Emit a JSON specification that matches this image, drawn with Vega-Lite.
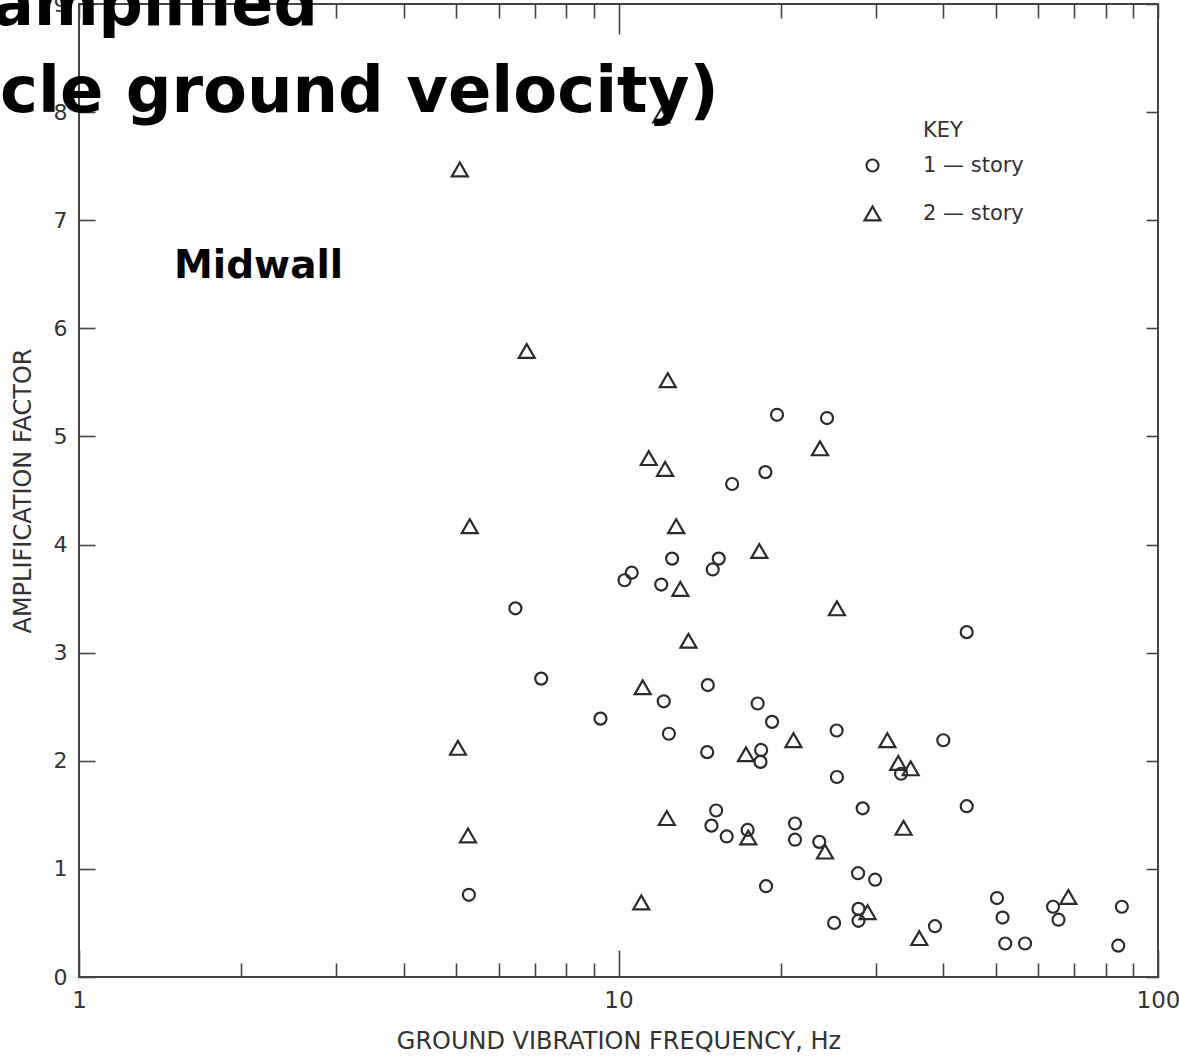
{
  "$schema": "https://vega.github.io/schema/vega-lite/v6.json",
  "width": 1079,
  "height": 973,
  "autosize": {"type": "none"},
  "padding": {"left": 79, "top": 4, "right": 21, "bottom": 83},
  "background": "white",
  "config": {
    "view": {"stroke": "#444", "strokeWidth": 2},
    "font": "DejaVu Sans",
    "axis": {
      "domain": false, "grid": false,
      "labelFont": "DejaVu Sans", "titleFont": "DejaVu Sans",
      "labelColor": "#333", "titleColor": "#333",
      "tickColor": "#444", "tickWidth": 1.6,
      "titleFontWeight": "normal",
      "labelFlush": false, "labelOverlap": false, "labelBound": false
    }
  },
  "data": {
    "values": [
      {"f": 19.67, "a": 5.20, "s": "1 — story"},
      {"f": 24.35, "a": 5.17, "s": "1 — story"},
      {"f": 18.72, "a": 4.67, "s": "1 — story"},
      {"f": 16.24, "a": 4.56, "s": "1 — story"},
      {"f": 12.57, "a": 3.87, "s": "1 — story"},
      {"f": 15.34, "a": 3.87, "s": "1 — story"},
      {"f": 14.95, "a": 3.77, "s": "1 — story"},
      {"f": 10.58, "a": 3.74, "s": "1 — story"},
      {"f": 10.26, "a": 3.67, "s": "1 — story"},
      {"f": 12.0, "a": 3.63, "s": "1 — story"},
      {"f": 6.44, "a": 3.41, "s": "1 — story"},
      {"f": 44.2, "a": 3.19, "s": "1 — story"},
      {"f": 7.19, "a": 2.76, "s": "1 — story"},
      {"f": 14.64, "a": 2.70, "s": "1 — story"},
      {"f": 12.13, "a": 2.55, "s": "1 — story"},
      {"f": 18.11, "a": 2.53, "s": "1 — story"},
      {"f": 9.26, "a": 2.39, "s": "1 — story"},
      {"f": 19.26, "a": 2.36, "s": "1 — story"},
      {"f": 12.4, "a": 2.25, "s": "1 — story"},
      {"f": 25.37, "a": 2.28, "s": "1 — story"},
      {"f": 40.0, "a": 2.19, "s": "1 — story"},
      {"f": 14.6, "a": 2.08, "s": "1 — story"},
      {"f": 18.38, "a": 2.10, "s": "1 — story"},
      {"f": 18.33, "a": 1.99, "s": "1 — story"},
      {"f": 33.4, "a": 1.88, "s": "1 — story"},
      {"f": 25.4, "a": 1.85, "s": "1 — story"},
      {"f": 28.35, "a": 1.56, "s": "1 — story"},
      {"f": 44.2, "a": 1.58, "s": "1 — story"},
      {"f": 15.17, "a": 1.54, "s": "1 — story"},
      {"f": 14.87, "a": 1.40, "s": "1 — story"},
      {"f": 15.87, "a": 1.30, "s": "1 — story"},
      {"f": 17.35, "a": 1.36, "s": "1 — story"},
      {"f": 21.24, "a": 1.42, "s": "1 — story"},
      {"f": 21.24, "a": 1.27, "s": "1 — story"},
      {"f": 23.56, "a": 1.25, "s": "1 — story"},
      {"f": 27.8, "a": 0.96, "s": "1 — story"},
      {"f": 29.9, "a": 0.90, "s": "1 — story"},
      {"f": 18.77, "a": 0.84, "s": "1 — story"},
      {"f": 5.28, "a": 0.76, "s": "1 — story"},
      {"f": 27.85, "a": 0.63, "s": "1 — story"},
      {"f": 27.85, "a": 0.52, "s": "1 — story"},
      {"f": 25.1, "a": 0.50, "s": "1 — story"},
      {"f": 38.6, "a": 0.47, "s": "1 — story"},
      {"f": 50.3, "a": 0.73, "s": "1 — story"},
      {"f": 51.5, "a": 0.55, "s": "1 — story"},
      {"f": 52.1, "a": 0.31, "s": "1 — story"},
      {"f": 56.7, "a": 0.31, "s": "1 — story"},
      {"f": 63.9, "a": 0.65, "s": "1 — story"},
      {"f": 65.4, "a": 0.53, "s": "1 — story"},
      {"f": 85.7, "a": 0.65, "s": "1 — story"},
      {"f": 84.4, "a": 0.29, "s": "1 — story"},
      {"f": 5.08, "a": 7.47, "s": "2 — story"},
      {"f": 12.0, "a": 7.97, "s": "2 — story"},
      {"f": 6.76, "a": 5.79, "s": "2 — story"},
      {"f": 12.34, "a": 5.52, "s": "2 — story"},
      {"f": 23.63, "a": 4.89, "s": "2 — story"},
      {"f": 11.38, "a": 4.80, "s": "2 — story"},
      {"f": 12.2, "a": 4.70, "s": "2 — story"},
      {"f": 5.30, "a": 4.17, "s": "2 — story"},
      {"f": 12.79, "a": 4.17, "s": "2 — story"},
      {"f": 18.24, "a": 3.94, "s": "2 — story"},
      {"f": 13.02, "a": 3.59, "s": "2 — story"},
      {"f": 25.4, "a": 3.41, "s": "2 — story"},
      {"f": 13.48, "a": 3.11, "s": "2 — story"},
      {"f": 11.09, "a": 2.68, "s": "2 — story"},
      {"f": 21.1, "a": 2.19, "s": "2 — story"},
      {"f": 5.04, "a": 2.12, "s": "2 — story"},
      {"f": 17.23, "a": 2.06, "s": "2 — story"},
      {"f": 31.5, "a": 2.19, "s": "2 — story"},
      {"f": 33.0, "a": 1.98, "s": "2 — story"},
      {"f": 34.8, "a": 1.93, "s": "2 — story"},
      {"f": 12.29, "a": 1.47, "s": "2 — story"},
      {"f": 17.4, "a": 1.29, "s": "2 — story"},
      {"f": 5.26, "a": 1.31, "s": "2 — story"},
      {"f": 33.76, "a": 1.38, "s": "2 — story"},
      {"f": 24.14, "a": 1.16, "s": "2 — story"},
      {"f": 11.02, "a": 0.69, "s": "2 — story"},
      {"f": 28.95, "a": 0.60, "s": "2 — story"},
      {"f": 36.1, "a": 0.36, "s": "2 — story"},
      {"f": 68.2, "a": 0.74, "s": "2 — story"}
    ]
  },
  "layer": [
    {
      "mark": {"type": "point", "filled": false, "stroke": "#2b2b2b", "strokeWidth": 2.2, "opacity": 1},
      "encoding": {
        "x": {
          "field": "f", "type": "quantitative",
          "scale": {"type": "log", "domain": [1, 100], "nice": false},
          "axis": {
            "orient": "bottom",
            "values": [1, 2, 3, 4, 5, 6, 7, 8, 9, 10, 20, 30, 40, 50, 60, 70, 80, 90, 100],
            "tickSize": {"condition": {"test": "datum.value == 1 || datum.value == 10 || datum.value == 100", "value": -27}, "value": -14},
            "labelExpr": "datum.value == 1 || datum.value == 10 || datum.value == 100 ? '' + datum.value : ''",
            "labelPadding": 39,
            "labelFontSize": 23,
            "title": "GROUND VIBRATION FREQUENCY, Hz",
            "titleFontSize": 24,
            "titlePadding": 4
          }
        },
        "y": {
          "field": "a", "type": "quantitative",
          "scale": {"domain": [0, 9], "nice": false},
          "axis": {
            "orient": "left",
            "values": [0, 1, 2, 3, 4, 5, 6, 7, 8, 9],
            "tickSize": -16,
            "labelPadding": 28,
            "labelFontSize": 22,
            "title": "AMPLIFICATION FACTOR",
            "titleFontSize": 24,
            "titlePadding": 18
          }
        },
        "shape": {
          "field": "s", "type": "nominal",
          "scale": {"domain": ["1 — story", "2 — story"], "range": ["circle", "triangle-up"]},
          "legend": {
            "title": "KEY", "orient": "none", "legendX": 783, "legendY": 116, "padding": 0,
            "titleFontSize": 21, "titleFontWeight": "normal", "titleColor": "#333", "titleAnchor": "middle", "titlePadding": 14,
            "labelFontSize": 21, "labelColor": "#333", "labelOffset": 40, "rowPadding": 26,
            "symbolStrokeColor": "#2b2b2b", "symbolStrokeWidth": 2.2
          }
        },
        "size": {
          "field": "s", "type": "nominal",
          "scale": {"domain": ["1 — story", "2 — story"], "range": [144, 256]},
          "legend": {
            "title": "KEY", "orient": "none", "legendX": 783, "legendY": 116, "padding": 0,
            "titleFontSize": 21, "titleFontWeight": "normal", "titleColor": "#333", "titleAnchor": "middle", "titlePadding": 14,
            "labelFontSize": 21, "labelColor": "#333", "labelOffset": 40, "rowPadding": 26,
            "symbolStrokeColor": "#2b2b2b", "symbolStrokeWidth": 2.2
          }
        }
      }
    },
    {
      "mark": {"type": "point", "opacity": 0},
      "encoding": {
        "x": {
          "field": "f", "type": "quantitative",
          "scale": {"type": "log", "domain": [1, 100], "nice": false},
          "axis": {
            "orient": "top",
            "values": [1, 2, 3, 4, 5, 6, 7, 8, 9, 10, 20, 30, 40, 50, 60, 70, 80, 90, 100],
            "tickSize": {"condition": {"test": "datum.value == 10", "value": -30}, "value": -14},
            "labels": false, "title": null
          }
        },
        "y": {
          "field": "a", "type": "quantitative",
          "scale": {"domain": [0, 9], "nice": false},
          "axis": {
            "orient": "right",
            "values": [0, 1, 2, 3, 4, 5, 6, 7, 8, 9],
            "tickSize": -12,
            "labels": false, "title": null
          }
        }
      }
    },
    {
      "data": {"values": [{"t": "amplified"}]},
      "mark": {"type": "text", "align": "left", "baseline": "alphabetic", "font": "DejaVu Sans", "fontWeight": "bold", "fontSize": 62, "color": "black"},
      "encoding": {
        "x": {"datum": 0.69, "type": "quantitative", "scale": {"type": "log", "domain": [1, 100], "nice": false}, "axis": null},
        "y": {"datum": 8.81, "type": "quantitative", "scale": {"domain": [0, 9], "nice": false}, "axis": null},
        "text": {"field": "t"}
      }
    },
    {
      "data": {"values": [{"t": "cle ground velocity)"}]},
      "mark": {"type": "text", "align": "left", "baseline": "alphabetic", "font": "DejaVu Sans", "fontWeight": "bold", "fontSize": 64, "color": "black"},
      "encoding": {
        "x": {"datum": 0.714, "type": "quantitative", "scale": {"type": "log", "domain": [1, 100], "nice": false}, "axis": null},
        "y": {"datum": 8.0, "type": "quantitative", "scale": {"domain": [0, 9], "nice": false}, "axis": null},
        "text": {"field": "t"}
      }
    },
    {
      "data": {"values": [{"t": "Midwall"}]},
      "mark": {"type": "text", "align": "left", "baseline": "alphabetic", "font": "DejaVu Sans", "fontWeight": "bold", "fontSize": 39, "color": "black"},
      "encoding": {
        "x": {"datum": 1.5, "type": "quantitative", "scale": {"type": "log", "domain": [1, 100], "nice": false}, "axis": null},
        "y": {"datum": 6.47, "type": "quantitative", "scale": {"domain": [0, 9], "nice": false}, "axis": null},
        "text": {"field": "t"}
      }
    }
  ],
  "resolve": {"axis": {"x": "independent", "y": "independent"}}
}
